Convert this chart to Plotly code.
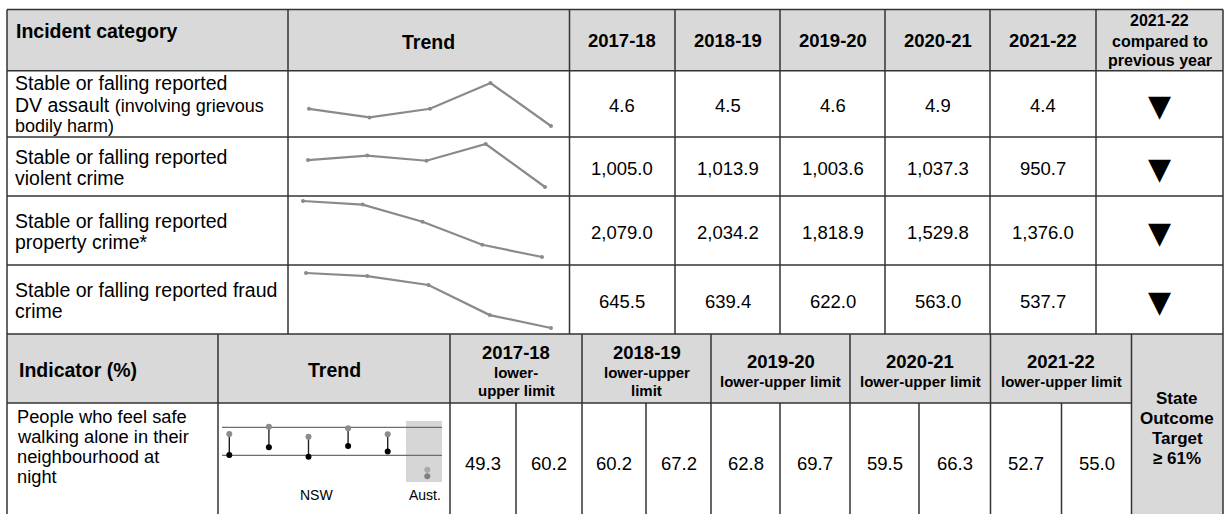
import plotly.graph_objects as go

W, H = 1225, 514

# ---------------- data ----------------
years = ["2017-18", "2018-19", "2019-20", "2020-21", "2021-22"]

incident_labels = [
    ["Stable or falling reported",
     "DV assault <span style='font-size:18px'>(involving grievous</span>",
     "<span style='font-size:18px'>bodily harm)</span>"],
    ["Stable or falling reported", "violent crime"],
    ["Stable or falling reported", "property crime*"],
    ["Stable or falling reported fraud", "crime"],
]
dv_assault = [4.6, 4.5, 4.6, 4.9, 4.4]
violent_crime = [1005.0, 1013.9, 1003.6, 1037.3, 950.7]
property_crime = [2079.0, 2034.2, 1818.9, 1529.8, 1376.0]
fraud_crime = [645.5, 639.4, 622.0, 563.0, 537.7]
incident_values = [dv_assault, violent_crime, property_crime, fraud_crime]

indicator_label = ["People who feel safe", "walking alone in their",
                   "neighbourhood at", "night"]
safe_lower = [49.3, 60.2, 62.8, 59.5, 52.7]
safe_upper = [60.2, 67.2, 69.7, 66.3, 55.0]
year_sub = [["lower-", "upper limit"], ["lower-upper", "limit"],
            ["lower-upper limit"], ["lower-upper limit"], ["lower-upper limit"]]

# small trend graphic in the indicator row (values as drawn)
trend_nsw_upper = [57.6, 60.2, 56.6, 59.7, 57.5]
trend_nsw_lower = [50.1, 52.9, 49.5, 53.3, 51.4]
trend_aust = [44.8, 42.5]
trend_band = [50.0, 60.0]
target_lines = ["State", "Outcome", "Target", "≥ 61%"]

# ---------------- layout (pixels) ----------------
TOP_X = [7, 288, 569.5, 675, 780, 885, 990, 1096, 1223]
TOP_Y = [9.5, 70.7, 137, 196, 265, 334]
BOT_X = [7, 218, 450, 582, 711, 850, 990.5, 1131.5, 1223]
BOT_SPLIT = [516, 646, 780, 919, 1061.5]
BOT_Y = [334, 403, 514]
# first/last point x, max/min value y of each incident sparkline
SPARK = [(309, 551, 83, 126), (308, 545, 144, 187),
         (303, 542, 201, 257), (306, 551, 273, 328)]

FONT = "Liberation Sans, Arial, sans-serif"
LINE = "#333333"
HEAD = "#d9d9d9"


def px(x):
    return x / W


def py(y):
    return 1 - y / H


shapes, annotations = [], []


def rect(x0, y0, x1, y1, fill):
    shapes.append(dict(type="rect", xref="paper", yref="paper", x0=px(x0), x1=px(x1),
                       y0=py(y1), y1=py(y0), fillcolor=fill, line_width=0, layer="below"))


def seg(x0, y0, x1, y1, width=1.5):
    shapes.append(dict(type="line", xref="paper", yref="paper", x0=px(x0), x1=px(x1),
                       y0=py(y0), y1=py(y1), line=dict(color=LINE, width=width)))


def label(x, y, text, size, bold=False, anchor="center", family=FONT):
    annotations.append(dict(xref="paper", yref="paper", x=px(x), y=py(y),
                            text=f"<b>{text}</b>" if bold else text, showarrow=False,
                            xanchor=anchor, yanchor="middle",
                            font=dict(size=size, color="black", family=family)))


# backgrounds
rect(TOP_X[0], TOP_Y[0], TOP_X[-1], TOP_Y[1], HEAD)
rect(BOT_X[0], BOT_Y[0], BOT_X[-2], BOT_Y[1], HEAD)
rect(BOT_X[-2], BOT_Y[0], BOT_X[-1], BOT_Y[2], HEAD)

# top table grid
for y in TOP_Y:
    seg(TOP_X[0], y, TOP_X[-1], y)
for x in TOP_X:
    seg(x, TOP_Y[0], x, TOP_Y[-1])
# bottom table grid
seg(BOT_X[0], BOT_Y[1], BOT_X[-2], BOT_Y[1])
for x in BOT_X:
    seg(x, BOT_Y[0], x, BOT_Y[2])
for x in BOT_SPLIT:
    seg(x, BOT_Y[1], x, BOT_Y[2])

# top header text
label(14, 31, "Incident category", 19.5, bold=True, anchor="left")
label((TOP_X[1] + TOP_X[2]) / 2, 42, "Trend", 19.5, bold=True)
for i, yr in enumerate(years):
    label((TOP_X[i + 2] + TOP_X[i + 3]) / 2, 41, yr, 18.5, bold=True)
for text, y in zip(["2021-22", "compared to", "previous year"], [20.7, 41.2, 60.7]):
    label((TOP_X[-2] + TOP_X[-1]) / 2, y, text, 16, bold=True)

fig = go.Figure()

# incident rows
for r, (lines, vals, sp) in enumerate(zip(incident_labels, incident_values, SPARK)):
    y0, y1 = TOP_Y[r + 1], TOP_Y[r + 2]
    n = len(lines)
    for k, t in enumerate(lines):
        label(13, (y0 + y1) / 2 + 1 + (k - (n - 1) / 2) * 21.5, t, 19.5, anchor="left")
    for i, v in enumerate(vals):
        label((TOP_X[i + 2] + TOP_X[i + 3]) / 2, (y0 + y1) / 2 + 2, f"{v:,.1f}", 18.5)
    arrow = "▼" if vals[-1] < vals[-2] else "▲"
    label((TOP_X[-2] + TOP_X[-1]) / 2, (y0 + y1) / 2 + 2, arrow, 30, family="DejaVu Sans")

    # sparkline on its own axes
    xs, xe, ytop, ybot = sp
    step = (xe - xs) / (len(vals) - 1)
    vmax, vmin = max(vals), min(vals)
    k = (ybot - ytop) / (vmax - vmin)
    ax = "" if r == 0 else str(r + 1)
    fig.add_trace(go.Scatter(x=list(range(len(vals))), y=vals, mode="lines+markers",
                             line=dict(color="#8a8a8a", width=2.2),
                             marker=dict(color="#8a8a8a", size=4),
                             xaxis="x" + ax, yaxis="y" + ax, showlegend=False,
                             hoverinfo="skip", cliponaxis=False))
    fig.update_layout({
        f"xaxis{ax}": dict(domain=[px(TOP_X[1]), px(TOP_X[2])],
                           range=[(TOP_X[1] - xs) / step, (TOP_X[2] - xs) / step],
                           visible=False, fixedrange=True, anchor="y" + ax),
        f"yaxis{ax}": dict(domain=[py(y1), py(y0)],
                           range=[vmax - (y1 - ytop) / k, vmax - (y0 - ytop) / k],
                           visible=False, fixedrange=True, anchor="x" + ax),
    })

# bottom header text
label(17, 370, "Indicator (%)", 19.5, bold=True, anchor="left")
label((BOT_X[1] + BOT_X[2]) / 2, 370, "Trend", 19.5, bold=True)
for i, (yr, sub) in enumerate(zip(years, year_sub)):
    cx = (BOT_X[i + 2] + BOT_X[i + 3]) / 2
    if len(sub) == 2:
        label(cx, 352, yr, 18.5, bold=True)
        label(cx, 372.5, sub[0], 15, bold=True)
        label(cx, 390, sub[1], 15, bold=True)
    else:
        label(cx, 361.5, yr, 18.5, bold=True)
        label(cx, 381, sub[0], 15, bold=True)
for k, t in enumerate(target_lines):
    label((BOT_X[-2] + BOT_X[-1]) / 2, 398 + 20 * k, t, 17, bold=True)

# indicator row
for k, t in enumerate(indicator_label):
    label(15, 416 + 20 * k, t, 18.3, anchor="left")
cuts = [BOT_X[2]]
for i in range(5):
    cuts += [BOT_SPLIT[i], BOT_X[i + 3]]
cells = list(zip(cuts[:-1], cuts[1:]))
for i in range(5):
    for j, v in enumerate([safe_lower[i], safe_upper[i]]):
        a, b = cells[2 * i + j]
        label((a + b) / 2, 463, f"{v:.1f}", 18.5)

# indicator trend graphic (axes x5/y5)
sx0, sstep = 229.3, 39.6
v_at = lambda yp: 50 + (455.3 - yp) / 2.8
nx = list(range(len(trend_nsw_upper)))
stem_x, stem_y = [], []
for i in nx:
    stem_x += [i, i, None]
    stem_y += [trend_nsw_upper[i], trend_nsw_lower[i], None]
fig.add_trace(go.Scatter(x=stem_x, y=stem_y, mode="lines", line=dict(color="#222", width=1.4),
                         xaxis="x5", yaxis="y5", showlegend=False, hoverinfo="skip"))
fig.add_trace(go.Scatter(x=[len(nx)] * 2, y=trend_aust, mode="lines",
                         line=dict(color="#999", width=1.4, dash="dot"),
                         xaxis="x5", yaxis="y5", showlegend=False, hoverinfo="skip"))
fig.add_trace(go.Scatter(x=nx, y=trend_nsw_upper, mode="markers",
                         marker=dict(color="#8c8c8c", size=6),
                         xaxis="x5", yaxis="y5", showlegend=False, hoverinfo="skip"))
fig.add_trace(go.Scatter(x=nx, y=trend_nsw_lower, mode="markers",
                         marker=dict(color="#000", size=6),
                         xaxis="x5", yaxis="y5", showlegend=False, hoverinfo="skip"))
fig.add_trace(go.Scatter(x=[len(nx)] * 2, y=trend_aust, mode="markers",
                         marker=dict(color=["#aaaaaa", "#808080"], size=6),
                         xaxis="x5", yaxis="y5", showlegend=False, hoverinfo="skip"))
fig.update_layout(
    xaxis5=dict(domain=[px(BOT_X[1]), px(BOT_X[2])],
                range=[(BOT_X[1] - sx0) / sstep, (BOT_X[2] - sx0) / sstep],
                visible=False, fixedrange=True, anchor="y5"),
    yaxis5=dict(domain=[py(BOT_Y[2]), py(BOT_Y[1])],
                range=[v_at(BOT_Y[2]), v_at(BOT_Y[1])],
                visible=False, fixedrange=True, anchor="x5"),
)
box_x = [(406 - sx0) / sstep, (442 - sx0) / sstep]
shapes.append(dict(type="rect", xref="x5", yref="y5", x0=box_x[0], x1=box_x[1],
                   y0=v_at(482), y1=v_at(421), fillcolor="#d6d6d6", line_width=0, layer="below"))
for v in trend_band:
    shapes.append(dict(type="line", xref="x5", yref="y5", x0=(222 - sx0) / sstep, x1=box_x[1],
                       y0=v, y1=v, line=dict(color="#6e6e6e", width=1.2), layer="below"))
annotations.append(dict(xref="x5", yref="y5", x=(nx[0] + nx[-1]) / 2 + 0.2, y=v_at(495),
                        text="NSW", showarrow=False, font=dict(size=14, family=FONT, color="black")))
annotations.append(dict(xref="x5", yref="y5", x=len(nx) - 0.05, y=v_at(495),
                        text="Aust.", showarrow=False, font=dict(size=14, family=FONT, color="black")))

fig.update_layout(
    width=W, height=H, margin=dict(l=0, r=0, t=0, b=0),
    paper_bgcolor="white", plot_bgcolor="rgba(0,0,0,0)",
    shapes=shapes, annotations=annotations, showlegend=False,
)
fig.write_html("out.html", config={"displayModeBar": False},
               post_script="document.body.style.margin='0';document.body.style.overflow='hidden';")
